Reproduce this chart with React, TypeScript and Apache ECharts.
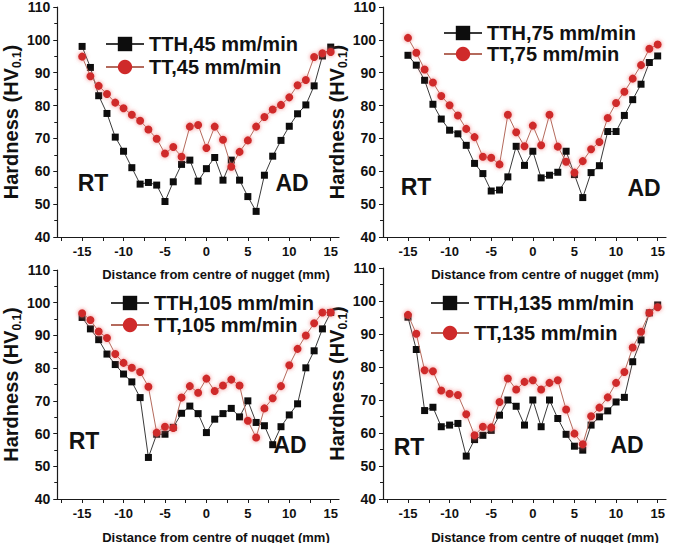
import React, { useEffect, useRef } from "react";
import * as echarts from "echarts";

const FONT = "'Liberation Sans', Arial, Helvetica, sans-serif";

// Distance from centre of nugget (mm)
const distance = [-15, -14, -13, -12, -11, -10, -9, -8, -7, -6, -5, -4, -3, -2, -1, 0, 1, 2, 3, 4, 5, 6, 7, 8, 9, 10, 11, 12, 13, 14, 15];

// Hardness HV0.1
const tth45 = [98.0, 91.6, 83.0, 77.6, 70.4, 66.1, 61.1, 56.1, 56.6, 55.8, 50.8, 56.8, 62.1, 63.4, 57.0, 60.8, 64.2, 57.3, 63.4, 57.3, 52.3, 47.8, 58.8, 64.6, 69.4, 73.7, 77.5, 80.2, 86.0, 95.1, 97.8];
const tt45 = [94.9, 88.9, 86.0, 83.5, 80.9, 79.2, 77.2, 75.4, 72.7, 69.9, 65.4, 67.4, 64.4, 73.6, 74.1, 67.1, 73.6, 69.6, 61.4, 65.9, 69.4, 73.6, 76.5, 78.8, 80.2, 82.5, 86.2, 87.8, 94.8, 95.9, 96.3];

const tth75 = [95.3, 92.3, 87.7, 80.4, 75.9, 72.5, 71.4, 67.9, 62.4, 59.3, 54.0, 54.3, 58.3, 67.6, 61.8, 66.1, 58.0, 58.8, 59.7, 66.1, 59.0, 52.0, 59.6, 61.7, 72.1, 72.1, 77.0, 81.8, 86.5, 93.1, 95.1];
const tt75 = [100.6, 96.1, 91.0, 87.0, 82.9, 80.1, 77.0, 72.9, 70.4, 64.4, 64.1, 62.1, 77.2, 71.9, 67.6, 73.9, 67.9, 77.2, 67.5, 62.9, 59.6, 63.1, 66.7, 68.9, 76.2, 80.8, 84.2, 88.2, 92.3, 97.3, 98.6];

const tth105 = [95.5, 92.0, 88.7, 84.3, 81.1, 78.2, 75.8, 71.0, 52.7, 59.8, 59.8, 61.9, 66.2, 68.4, 66.1, 60.3, 64.4, 66.1, 67.7, 65.1, 70.0, 63.4, 62.4, 56.6, 62.1, 65.7, 69.1, 80.1, 85.3, 92.0, 97.0];
const tt105 = [96.8, 94.7, 91.2, 89.2, 84.3, 81.6, 80.1, 78.8, 74.3, 60.3, 62.1, 61.7, 71.0, 74.5, 72.5, 76.8, 73.0, 74.7, 76.5, 74.7, 63.9, 58.8, 67.7, 70.8, 74.5, 80.9, 85.9, 90.0, 93.7, 97.0, 97.0];

const tth135 = [95.1, 85.3, 66.8, 67.8, 61.9, 62.4, 62.9, 53.0, 58.0, 59.3, 60.8, 65.4, 70.0, 68.1, 62.4, 70.0, 61.9, 70.0, 64.4, 59.6, 56.0, 54.8, 62.4, 64.9, 66.7, 69.4, 70.8, 81.6, 88.2, 96.4, 98.8];
const tt135 = [95.8, 90.1, 79.0, 78.7, 72.9, 71.9, 71.5, 65.7, 59.3, 61.9, 61.7, 69.4, 76.5, 73.2, 75.5, 76.0, 73.2, 75.2, 76.0, 67.1, 59.8, 56.6, 65.1, 67.7, 70.8, 75.2, 78.5, 85.9, 90.7, 96.4, 98.1];

const speeds = ["45", "75", "105", "135"];
const tthSeries = [tth45, tth75, tth105, tth135];
const ttSeries = [tt45, tt75, tt105, tt135];

const xLabelValues = [-15, -10, -5, 0, 5, 10, 15];
const xTickValues = [-17.5, -15, -12.5, -10, -7.5, -5, -2.5, 0, 2.5, 5, 7.5, 10, 12.5, 15];
const xAxisTitle = "Distance from centre of nugget (mm)";

// layout (pixels)
const gridBoxes = [
  { left: 56, top: 7, width: 283, height: 230 },
  { left: 383, top: 7, width: 283, height: 230 },
  { left: 56, top: 270, width: 283, height: 229 },
  { left: 383, top: 268, width: 283, height: 231 },
];
const legendBoxes = [
  { left: 105, top: 34, itemGap: 3 },
  { left: 443, top: 23, itemGap: 1 },
  { left: 110, top: 293, itemGap: 2 },
  { left: 430, top: 293, itemGap: 10 },
];
const nameGaps = [32, 26, 32, 26];
const regionLabels = [
  { t: "RT", x: 93, y: 183 },
  { t: "AD", x: 292, y: 183 },
  { t: "RT", x: 416, y: 187 },
  { t: "AD", x: 644, y: 188 },
  { t: "RT", x: 84, y: 441 },
  { t: "AD", x: 290, y: 445 },
  { t: "RT", x: 409, y: 447 },
  { t: "AD", x: 627, y: 445 },
];
const xTitles = [
  { x: 216, y: 274 },
  { x: 545, y: 274 },
  { x: 216, y: 537 },
  { x: 545, y: 537 },
];

const axisColor = "#1a1a1a";

export default function App() {
  const ref = useRef<HTMLDivElement>(null);

  useEffect(() => {
    if (!ref.current) return;
    const chart = echarts.init(ref.current, undefined, { renderer: "svg" });

    const grid = gridBoxes.map((g) => ({ ...g, containLabel: false }));

    const xAxis = gridBoxes.map((_, i) => ({
      type: "value",
      gridIndex: i,
      min: -18,
      max: 16,
      axisLine: { show: true, onZero: false, lineStyle: { color: axisColor, width: 1.2 } },
      axisTick: {
        show: true,
        customValues: xTickValues,
        length: 4,
        lineStyle: { color: axisColor, width: 1 },
      },
      axisLabel: {
        customValues: xLabelValues,
        fontSize: 13,
        fontWeight: "bold",
        fontFamily: FONT,
        color: "#111",
        margin: 8,
      },
      splitLine: { show: false },
    }));

    const yAxis = gridBoxes.map((_, i) => ({
      type: "value",
      gridIndex: i,
      min: 40,
      max: 110,
      interval: 10,
      axisLine: { show: true, onZero: false, lineStyle: { color: axisColor, width: 1.2 } },
      axisTick: { show: true, length: 4, lineStyle: { color: axisColor, width: 1 } },
      minorTick: { show: true, splitNumber: 2, length: 3, lineStyle: { color: axisColor, width: 1 } },
      axisLabel: {
        fontSize: 14,
        fontWeight: "bold",
        fontFamily: FONT,
        color: "#111",
        margin: 7,
      },
      splitLine: { show: false },
      minorSplitLine: { show: false },
      name: "{a|Hardness (HV}{s|0.1}{a|)}",
      nameLocation: "middle",
      nameRotate: 90,
      nameGap: nameGaps[i],
      nameTextStyle: {
        rich: {
          a: {
            fontSize: 20,
            fontWeight: "bold",
            fontFamily: FONT,
            color: "#111",
            lineHeight: 24,
            verticalAlign: "middle",
          },
          s: {
            fontSize: 12,
            fontWeight: "bold",
            fontFamily: FONT,
            color: "#111",
            lineHeight: 12,
            verticalAlign: "bottom",
          },
        },
      },
    }));

    const series: any[] = [];
    speeds.forEach((sp, i) => {
      series.push({
        type: "line",
        name: `TTH,${sp} mm/min`,
        xAxisIndex: i,
        yAxisIndex: i,
        data: distance.map((d, k) => [d, tthSeries[i][k]]),
        symbol: "rect",
        symbolSize: 7,
        itemStyle: { color: "#0d0d0d" },
        lineStyle: { color: "#3a3a3a", width: 1 },
        z: 2,
      });
      series.push({
        type: "line",
        name: `TT,${sp} mm/min`,
        xAxisIndex: i,
        yAxisIndex: i,
        data: distance.map((d, k) => [d, ttSeries[i][k]]),
        symbol: "circle",
        symbolSize: 8,
        itemStyle: {
          color: "#cf2a2a",
          shadowBlur: 4,
          shadowColor: "rgba(240,110,110,0.85)",
        },
        lineStyle: { color: "#b46a5c", width: 1 },
        z: 3,
      });
    });

    const legend = legendBoxes.map((lb, i) => ({
      show: true,
      orient: "vertical",
      left: lb.left,
      top: lb.top,
      padding: 0,
      itemGap: lb.itemGap,
      itemWidth: 38,
      itemHeight: 18,
      selectedMode: false,
      data: [`TTH,${speeds[i]} mm/min`, `TT,${speeds[i]} mm/min`],
      textStyle: {
        fontSize: 20,
        fontWeight: "bold",
        fontFamily: FONT,
        color: "#111",
        lineHeight: 20,
      },
    }));

    const graphic: any[] = [];
    regionLabels.forEach((r) => {
      graphic.push({
        type: "text",
        x: r.x,
        y: r.y,
        silent: true,
        style: {
          text: r.t,
          fontSize: 23,
          fontWeight: "bold",
          fontFamily: FONT,
          fill: "#111",
          align: "center",
          verticalAlign: "middle",
        },
      });
    });
    xTitles.forEach((p) => {
      graphic.push({
        type: "text",
        x: p.x,
        y: p.y,
        silent: true,
        style: {
          text: xAxisTitle,
          fontSize: 13,
          fontWeight: "bold",
          fontFamily: FONT,
          fill: "#111",
          align: "center",
          verticalAlign: "middle",
        },
      });
    });

    chart.setOption({
      animation: false,
      backgroundColor: "#ffffff",
      grid,
      xAxis,
      yAxis,
      legend,
      series,
      graphic,
    });

    return () => {
      chart.dispose();
    };
  }, []);

  return (
    <div
      ref={ref}
      style={{ position: "fixed", left: 0, top: 0, width: 685, height: 543, background: "#fff" }}
    />
  );
}
